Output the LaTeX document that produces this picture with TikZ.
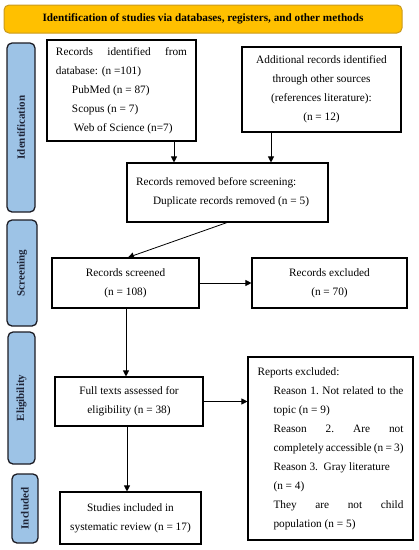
\documentclass[tikz,border=0pt]{standalone}
\usepackage{fontspec}
\setmainfont{Liberation Serif}
\usetikzlibrary{arrows.meta}
\definecolor{titlefill}{HTML}{FFC000}
\definecolor{titleline}{HTML}{C99A1E}
\definecolor{sidefill}{HTML}{9DC3E6}
\definecolor{sideline}{HTML}{1C1C24}
\definecolor{sidetext}{HTML}{1F2538}
\tikzset{
  box/.style={draw=black, line width=1.1pt, fill=white, inner sep=0pt, font=\fontsize{11.3}{19}\selectfont},
  side/.style={draw=sideline, line width=1.3pt, fill=sidefill, rounded corners=5pt, inner sep=0pt, text=sidetext, font=\fontsize{11}{12}\selectfont\bfseries},
  conn/.style={-{Triangle[length=6pt,width=6pt]}, line width=0.8pt, black},
}
\begin{document}
\begin{tikzpicture}[x=1pt,y=-1pt]
\useasboundingbox (0,0) rectangle (419,550);
% title
\node[draw=titleline, line width=1pt, fill=titlefill, rounded corners=5pt, minimum width=398pt, minimum height=28pt, inner sep=0pt, font=\fontsize{11.2}{12}\selectfont\bfseries] (title) at (203,19) {Identification of studies via databases, registers, and other methods};
% side bars
\node[side, minimum width=28pt, minimum height=169pt] (sid) at (21,127.5) {\rotatebox{90}{Identification}};
\node[side, minimum width=30pt, minimum height=106pt] (ssc) at (22,273) {\rotatebox{90}{Screening}};
\node[side, minimum width=27pt, minimum height=132pt] (sel) at (21.5,398) {\rotatebox{90}{Eligibility}};
\node[side, minimum width=26pt, minimum height=69pt] (sin) at (25,508.5) {\rotatebox{90}{Included}};
% boxes
\node[box, minimum width=149pt, minimum height=101pt] (db) at (121.5,90.5) {%
  \parbox{131pt}{\fontsize{11.3}{19}\selectfont Records\hfill identified\hfill from\\
  database: (n =101)\\
  \hspace*{16pt}PubMed (n = 87)\\
  \hspace*{16pt}Scopus (n = 7)\\
  \hspace*{18pt}Web of Science (n=7)}};
\node[box, minimum width=159pt, minimum height=85pt, align=center] (other) at (321.5,89.5) {Additional records identified\\through other sources\\(references literature):\\(n = 12)};
\node[box, minimum width=201pt, minimum height=59pt] (rem) at (227.5,192.5) {%
  \parbox{183pt}{\fontsize{11.3}{19}\selectfont Records removed before screening:\\
  \hspace*{17pt}Duplicate records removed (n = 5)}};
\node[box, minimum width=147pt, minimum height=50pt, align=center] (scr) at (125.5,283) {Records screened\\(n = 108)};
\node[box, minimum width=155pt, minimum height=50pt, align=center] (exc) at (329.5,283) {Records excluded\\(n = 70)};
\node[box, minimum width=148pt, minimum height=49pt, align=center] (full) at (129,401.5) {Full texts assessed for\\eligibility (n = 38)};
\node[box, minimum width=165pt, minimum height=183pt] (rep) at (330.5,448.5) {%
  \parbox{146pt}{\fontsize{11.3}{19}\selectfont Reports excluded:\\
  \hspace*{16pt}\makebox[130pt][s]{Reason\hfill 1.\hfill Not\hfill related\hfill to\hfill the}\\
  \hspace*{16pt}topic (n = 9)\\
  \hspace*{16pt}\makebox[130pt][s]{Reason\hfill 2.\hfill Are\hfill not}\\
  \hspace*{16pt}\makebox[130pt][s]{completely accessible (n = 3)}\\
  \hspace*{16pt}Reason 3.\ \ Gray literature\\
  \hspace*{16pt}(n = 4)\\
  \hspace*{16pt}\makebox[130pt][s]{They\hfill are\hfill not\hfill child}\\
  \hspace*{16pt}population (n = 5)}};
\node[box, minimum width=141pt, minimum height=52pt, align=center] (inc) at (130.5,518) {Studies included in\\systematic review (n = 17)};
% connector guide x positions
\coordinate (xa) at (174,0);
\coordinate (xb) at (271,0);
\coordinate (xc) at (126,0);
\coordinate (xd) at (127,0);
\coordinate (remC) at (227,222);
\coordinate (scrA) at (128,258);
% connectors
\draw[conn] (db.south -| xa) -- (rem.north -| xa);
\draw[conn] (other.south -| xb) -- (rem.north -| xb);
\draw[conn] (rem.south -| remC) -- (scr.north -| scrA);
\draw[conn] (scr.east) -- (exc.west);
\draw[conn] (scr.south -| xc) -- (full.north -| xc);
\draw[conn] (full.east) -- (rep.west |- full.east);
\draw[conn] (full.south -| xd) -- (inc.north -| xd);
\end{tikzpicture}
\end{document}
